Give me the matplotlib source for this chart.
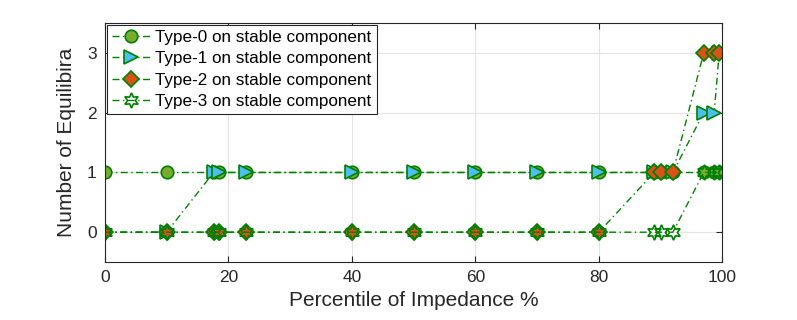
import matplotlib
matplotlib.use("Agg")
import matplotlib.pyplot as plt

plt.rcParams['font.family'] = ['Liberation Sans', 'DejaVu Sans']

# percentile of impedance
pct = [0, 10, 17.6, 18.4, 22.8, 40, 50, 60, 70, 80, 89, 90, 92, 97, 98.7, 99.5]

# number of equilibria per type
type0 = [1, 1, 1, 1, 1, 1, 1, 1, 1, 1, 1, 1, 1, 1, 1, 1]
type1 = [0, 0, 1, 1, 1, 1, 1, 1, 1, 1, 1, 1, 1, 2, 2, 3]
type2 = [0, 0, 0, 0, 0, 0, 0, 0, 0, 0, 1, 1, 1, 3, 3, 3]
type3 = [0, 0, 0, 0, 0, 0, 0, 0, 0, 0, 0, 0, 0, 1, 1, 1]

labels = ['Type-0 on stable component', 'Type-1 on stable component',
          'Type-2 on stable component', 'Type-3 on stable component']

green = '#008000'
fig = plt.figure(figsize=(7.97, 3.2), dpi=100)
ax = fig.add_axes([0.1317, 0.181, 0.7745, 0.747])

kw = dict(color=green, linestyle=(0, (5, 2.5, 1, 2.5)), linewidth=1.0,
          markeredgecolor=green, markeredgewidth=1.2)
ax.plot(pct, type0, marker='o', markersize=9, markerfacecolor='#77AC30',
        label=labels[0], **kw)
ax.plot(pct, type1, marker='>', markersize=9.5, markerfacecolor='#4DBEEE',
        label=labels[1], **kw)
ax.plot(pct, type2, marker='D', markersize=8, markerfacecolor='#D95319',
        label=labels[2], **kw)
# six-pointed star (hexagram), hollow
ax.plot(pct, type3, marker=(6, 1, 0), markersize=11, markerfacecolor='none',
        label=labels[3], **kw)

ax.set_xlim(0, 100)
ax.set_ylim(-0.5, 3.5)
ax.set_xticks([0, 20, 40, 60, 80, 100])
ax.set_yticks([0, 1, 2, 3])
ax.grid(True, color='#e3e3e3', linewidth=0.8)
ax.set_axisbelow(True)
ax.tick_params(direction='in', top=True, right=True, labelsize=12.5,
               colors='#262626', length=4, pad=6)
for s in ax.spines.values():
    s.set_color('#262626')
    s.set_linewidth(0.8)

ax.set_xlabel('Percentile of Impedance %', fontsize=15, color='#262626',
              labelpad=4)
ax.set_ylabel('Number of Equilibira', fontsize=15, color='#262626',
              labelpad=8)

leg = ax.legend(loc='upper left', fontsize=12.3, numpoints=1, handlelength=2.3,
                handletextpad=0.25, labelspacing=0.38, borderpad=0.3,
                borderaxespad=0.1, fancybox=False, framealpha=1)
leg.get_frame().set_edgecolor('#262626')
leg.get_frame().set_linewidth(0.8)

fig.savefig('out.png', dpi=100)
